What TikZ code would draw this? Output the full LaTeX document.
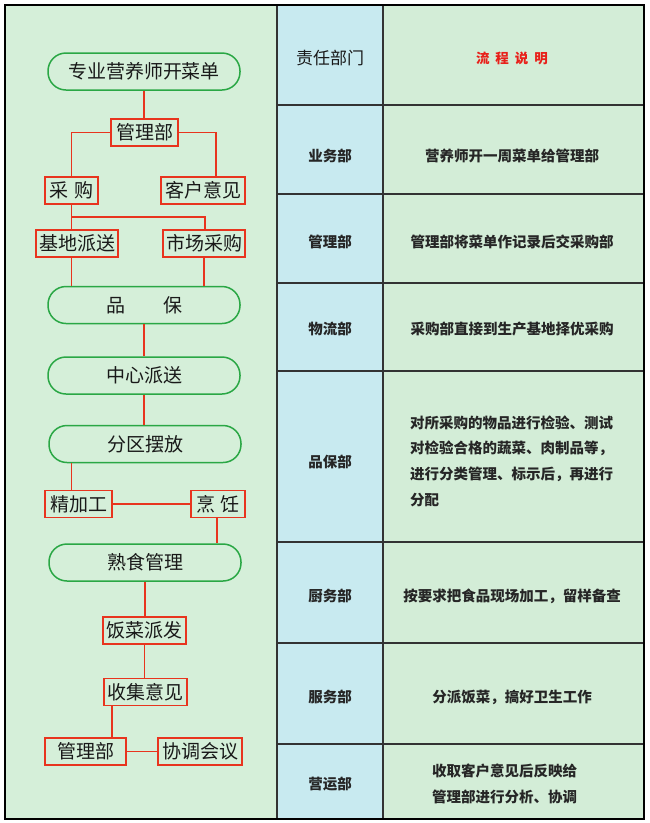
\documentclass[tikz,border=0pt]{standalone}
\usepackage{fontspec}
\setmainfont{Noto Sans CJK SC}
\usetikzlibrary{positioning,calc}
\definecolor{panelgreen}{HTML}{D5EFD9}
\definecolor{cellblue}{HTML}{C8EAF0}
\definecolor{cellgreen}{HTML}{D3EDD7}
\definecolor{pillgreen}{HTML}{2AA745}
\definecolor{linkred}{HTML}{E8341E}
\definecolor{titlered}{HTML}{E8201A}

\begin{document}
\begin{tikzpicture}[x=1pt, y=-1pt,
  pill/.style={rectangle, rounded corners=18pt, draw=pillgreen, line width=1.5pt, minimum width=192pt, minimum height=37pt, inner sep=0pt, font=\fontsize{19}{22}\selectfont, text=black!90},
  box/.style={rectangle, draw=linkred, line width=1.6pt, minimum height=27pt, inner sep=0pt, font=\fontsize{19}{22}\selectfont, text=black!90},
  link/.style={draw=linkred, line width=1.6pt},
  grid/.style={draw=black!80, line width=1.5pt},
  hdr/.style={font=\fontsize{17}{20}\selectfont, text=black!90},
  dept/.style={font=\fontsize{14.5}{17}\selectfont\bfseries, text=black!85},
  desc/.style={font=\fontsize{14.5}{25.7}\selectfont\bfseries, text=black!85, align=left, inner sep=0pt}
]
\useasboundingbox[fill=white] (0,0) rectangle (650,823);
\fill[panelgreen] (5,5) rectangle (277,819);
\fill[cellblue] (277,5) rectangle (383,819);
\fill[cellgreen] (383,5) rectangle (644,819);
\foreach \y in {105,194,283,371,542,643,744}
  \draw[grid] (277,\y) -- (644,\y);
\draw[grid] (277,5) -- (277,819);
\draw[grid] (383,5) -- (383,819);
\draw[line width=2.5pt] (5,5) rectangle (644,819);

% table
\node[hdr] (deptHead) at (330,58) {责任部门};
\node[font=\fontsize{13.5}{16}\selectfont\bfseries, text=titlered] (descHead) at (512,58) {流\hspace{6pt}程\hspace{6pt}说\hspace{6pt}明};
\node[dept] (deptA) at (330,156) {业务部};
\node[dept] (deptB) at (330,242) {管理部};
\node[dept] (deptC) at (330,329) {物流部};
\node[dept] (deptD) at (330,462) {品保部};
\node[dept] (deptE) at (330,596) {厨务部};
\node[dept] (deptF) at (330,697) {服务部};
\node[dept] (deptG) at (330,784) {营运部};
\node[desc] (descA) at (512,156) {营养师开一周菜单给管理部};
\node[desc] (descB) at (512,242) {管理部将菜单作记录后交采购部};
\node[desc] (descC) at (512,329) {采购部直接到生产基地择优采购};
\node[desc, anchor=west] (descD) at (410,461) {对所采购的物品进行检验、测试\\对检验合格的蔬菜、肉制品等，\\进行分类管理、标示后，再进行\\分配};
\node[desc] (descE) at (512,596) {按要求把食品现场加工，留样备查};
\node[desc] (descF) at (512,697) {分派饭菜，搞好卫生工作};
\node[desc, anchor=west] (descG) at (432,784) {收取客户意见后反映给\\管理部进行分析、协调};

% flow
\node[pill] (menu) at (144,71.5) {专业营养师开菜单};
\node[box, minimum width=67pt] (mgrA) at (144.5,132.5) {管理部};
\node[box, minimum width=53pt] (buy) at (71.5,190.5) {采\hspace{6pt}购};
\node[box, minimum width=84pt] (feedback) at (203,190.5) {客户意见};
\node[box, minimum width=82pt] (base) at (77,243.5) {基地派送};
\node[box, minimum width=82pt] (market) at (204,243.5) {市场采购};
\node[pill] (qc) at (144,305) {品\hspace{2em}保};
\node[pill] (hub) at (144,375.5) {中心派送};
\node[pill] (zone) at (145,444) {分区摆放};
\node[box, minimum width=67pt] (prep) at (78.5,504) {精加工};
\node[box, minimum width=54pt] (cook) at (218,504) {烹\hspace{5pt}饪};
\node[pill] (cooked) at (145,562.5) {熟食管理};
\node[box, minimum width=83pt] (serve) at (144.5,630.5) {饭菜派发};
\node[box, minimum width=83pt] (collect) at (145.5,692) {收集意见};
\node[box, minimum width=81pt] (mgrB) at (85.5,751.5) {管理部};
\node[box, minimum width=84pt] (meet) at (200,751.5) {协调会议};

\draw[link] (menu.south) -- (menu.south |- mgrA.north);
\draw[link] (mgrA.west) -| (buy.north);
\draw[link] (mgrA.east) -| ([xshift=13pt]feedback.north);
\draw[link] (buy.south) -- (buy.south |- base.north);
\coordinate (split) at ($(buy.south)!0.5!(buy.south |- base.north)$);
\draw[link] (split) -| ([xshift=1pt]market.north);
\draw[link] (buy.south |- base.south) -- (buy.south |- qc.north);
\draw[link] (market.south) -- (market.south |- qc.north);
\draw[link] (qc) -- (hub);
\draw[link] (hub.south) -- (hub.south |- zone.north);
\draw[link] (buy.south |- zone.south) -- (buy.south |- prep.north);
\draw[link] (prep) -- (cook);
\draw[link] ([xshift=-1pt]cook.south) -- ([xshift=-1pt]cook.south |- cooked.north);
\draw[link] (cooked.south) -- (cooked.south |- serve.north);
\draw[link] (serve.south) -- (serve.south |- collect.north);
\draw[link] ([xshift=-33.5pt]collect.south) -- ([xshift=-33.5pt]collect.south |- mgrB.north);
\draw[link] (mgrB) -- (meet);
\end{tikzpicture}
\end{document}
